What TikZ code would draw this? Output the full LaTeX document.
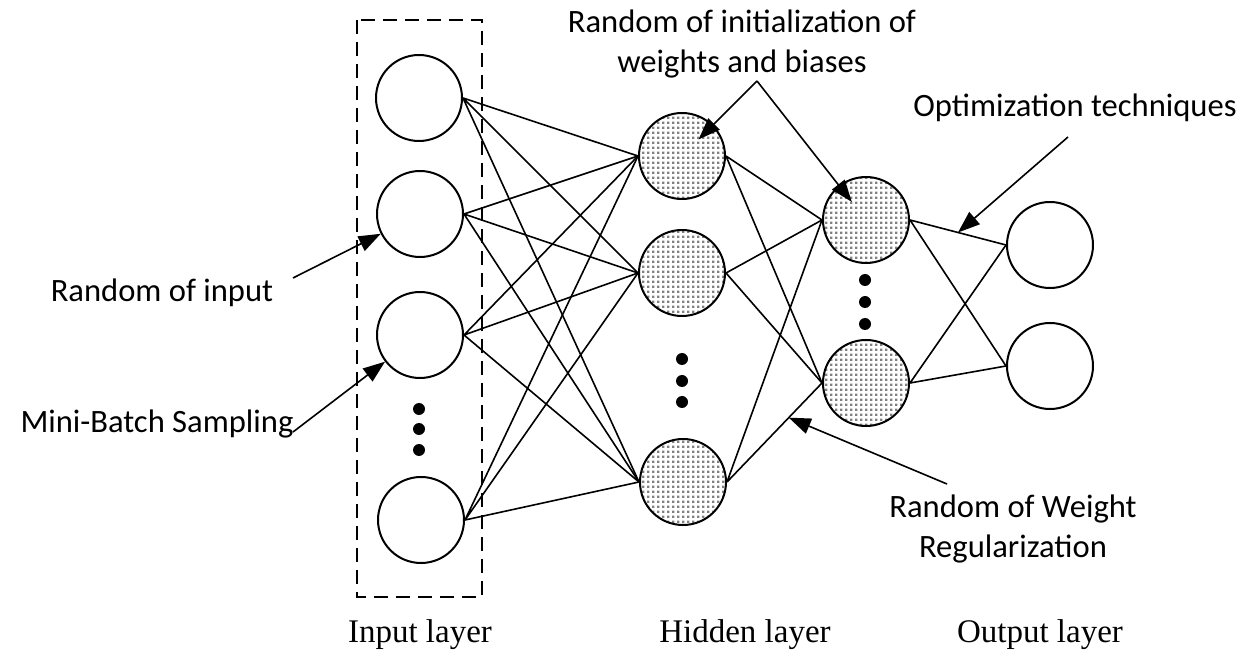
\documentclass[tikz,border=0pt]{standalone}
\usepackage{fontspec}
\setmainfont{Liberation Serif}
\newfontfamily\notefont{Carlito}
\usetikzlibrary{arrows.meta,patterns.meta,calc}

\tikzdeclarepattern{
    name=griddots,
    type=uncolored,
    bottom left={(0pt,0pt)},
    top right={(2.7pt,2.7pt)},
    tile size={(2.7pt,2.7pt)},
    code={\pgfpathrectangle{\pgfpointorigin}{\pgfqpoint{1.3pt}{1.3pt}}\pgfusepath{fill}}
}

\begin{document}
\begin{tikzpicture}[>={Triangle[length=11pt, width=8pt]}, x=0.5pt, y=-0.5pt, line width=0.8pt]
    \tikzset{
        neuron/.style = {draw, circle, line width=1pt, minimum size=43pt, inner sep=0pt},
        hidden/.style = {neuron, pattern=griddots, pattern color=gray},
        note/.style   = {font=\notefont\fontsize{16.3}{20}\selectfont, align=center, inner sep=0pt},
        layer/.style  = {font=\fontsize{16.5}{19}\selectfont, inner sep=0pt}
    }
    \useasboundingbox (0,0) rectangle (1255,652);

    % input layer
    \node[neuron] (I1) at (419,98) {};
    \node[neuron] (I2) at (420,214) {};
    \node[neuron] (I3) at (420,335) {};
    \node[neuron] (I4) at (421,520) {};
    \fill (419,409) circle (3pt) (419,429) circle (3pt) (419,450) circle (3pt);
    \draw[dash pattern=on 7pt off 4pt] (357,20) rectangle (482,597);

    % hidden layers
    \node[hidden] (H1) at (682,156) {};
    \node[hidden] (H2) at (682,273) {};
    \node[hidden] (H3) at (683,482) {};
    \fill (682,359) circle (3pt) (682,381) circle (3pt) (682,402) circle (3pt);
    \node[hidden] (J1) at (866,220) {};
    \node[hidden] (J2) at (866,383) {};
    \fill (865,280) circle (3pt) (865,302) circle (3pt) (865,324) circle (3pt);

    % output layer
    \node[neuron] (O1) at (1050,245) {};
    \node[neuron] (O2) at (1050,366) {};

    % links
    \draw (I1.east) -- (H1.west) (I1.east) -- (H2.west) (I1.east) -- (H3.west);
    \draw (I2.east) -- (H1.west) (I2.east) -- (H2.west) (I2.east) -- (H3.west);
    \draw (I3.east) -- (H1.west) (I3.east) -- (H2.west) (I3.east) -- (H3.west);
    \draw (I4.east) -- (H1.west) (I4.east) -- (H2.west) (I4.east) -- (H3.west);
    \draw (H1.east) -- (J1.west) (H1.east) -- (J2.west);
    \draw (H2.east) -- (J1.west) (H2.east) -- (J2.west);
    \draw (H3.east) -- (J1.west) (H3.east) -- (J2.west);
    \draw (J1.east) -- (O1.west) (J1.east) -- (O2.west);
    \draw (J2.east) -- (O1.west) (J2.east) -- (O2.west);

    % notes
    \node[note, anchor=base] (INIT) at (742,73) {Random of initialization of\\weights and biases};
    \node[note, anchor=base] (OPT) at (1075,117) {Optimization techniques};
    \node[note, anchor=base] (RIN) at (162,302) {Random of input};
    \node[note, anchor=base] (MB) at (157,433) {Mini-Batch Sampling};
    \node[note, anchor=base] (REG) at (1013,558) {Random of Weight\\Regularization};
    \coordinate (WB) at (757,81);
    \coordinate (OT) at (1068,137);
    \coordinate (RI) at (293,278);
    \coordinate (MS) at (293,432);
    \coordinate (WR) at (947,484);
    \draw[->] (WB) -- ($(WB)!0.78!(H1.center)$);
    \draw[->] (WB) -- ($(WB)!0.87!(J1.center)$);
    \draw[->] (OT) -- ($(J1.east)!0.5!(O1.west)$);
    \draw[->] (RI) -- (I2);
    \draw[->] (MS) -- (I3);
    \draw[->] (WR) -- ($(H3.east)!0.65!(J2.west)$);

    % layer names
    \node[layer, anchor=base] (LIN) at (420,642) {Input layer};
    \node[layer, anchor=base] (LHID) at (745,642) {Hidden layer};
    \node[layer, anchor=base] (LOUT) at (1040,643) {Output layer};
\end{tikzpicture}
\end{document}
